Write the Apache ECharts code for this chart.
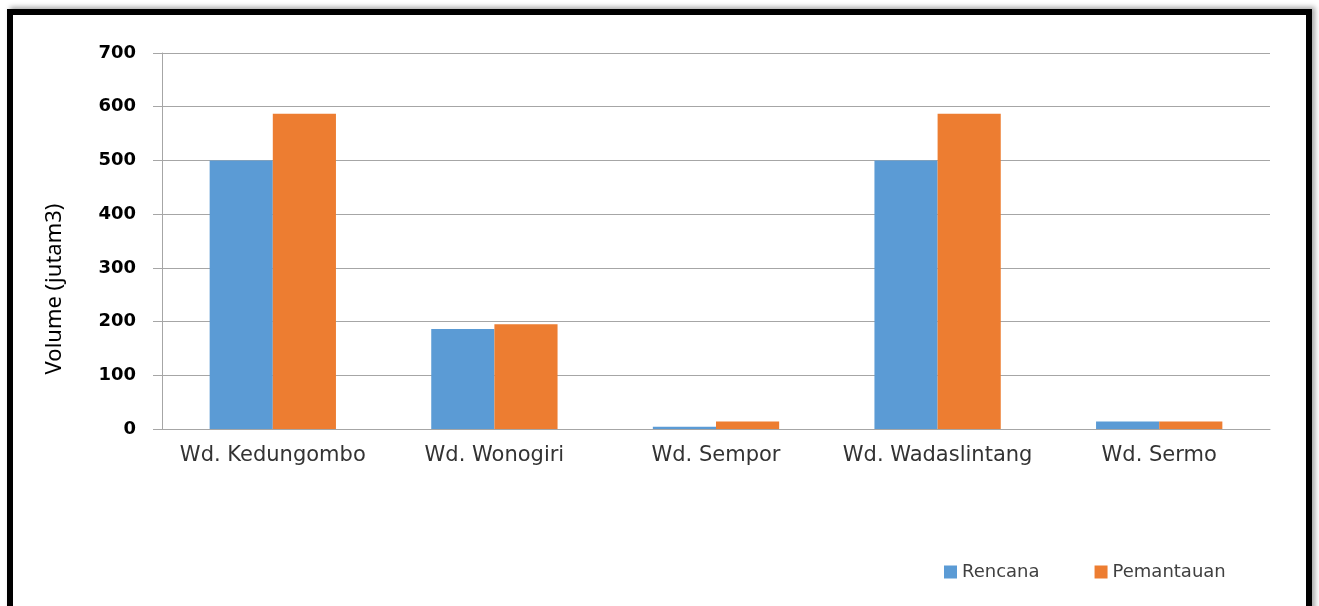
<!DOCTYPE html>
<html>
<head>
<meta charset="utf-8">
<script src="https://cdn.jsdelivr.net/npm/echarts@6/dist/echarts.min.js"></script>
<style>
  html, body { margin: 0; padding: 0; background: #fff; }
  #chart { width: 1319px; height: 606px; }
  #frame {
    position: absolute; left: 7px; top: 9px; width: 1293px; height: 620px;
    border: 6px solid #000; box-shadow: 3px -2px 5px rgba(0,0,0,0.35);
    pointer-events: none;
  }
</style>
</head>
<body>
<div id="chart"></div>
<div id="frame"></div>
<script>
// reservoirs (waduk)
const categories = ['Wd. Kedungombo', 'Wd. Wonogiri', 'Wd. Sempor', 'Wd. Wadaslintang', 'Wd. Sermo']
// volume, million m3
const rencana = [500, 186, 4, 500, 14]
const pemantauan = [587, 195, 14, 587, 14]
const yTicks = [0, 100, 200, 300, 400, 500, 600, 700]

const chart = echarts.init(document.getElementById('chart'))
const grey = '#a6a6a6'

chart.setOption({
  animation: false,
  grid: {
    left: 162,
    right: 49,
    top: 53,
    bottom: 177
  },
  graphic: [{
    type: 'text',
    x: 55,
    y: 289,
    rotation: Math.PI / 2,
    style: {
      text: 'Volume (jutam3)',
      fontFamily: 'Noto Sans',
      fontSize: 22,
      fill: '#000',
      align: 'center',
      verticalAlign: 'middle'
    }
  }],
  legend: {
    left: 939,
    top: 558,
    itemWidth: 13,
    itemHeight: 13,
    itemGap: 55,
    icon: 'rect',
    textStyle: { fontFamily: 'DejaVu Sans', fontSize: 18, color: '#404040' },
    data: ['Rencana', 'Pemantauan']
  },
  xAxis: {
    type: 'category',
    data: categories,
    axisLine: { lineStyle: { color: grey } },
    axisTick: { length: 6, lineStyle: { color: grey } },
    axisLabel: {
      interval: 0,
      margin: 16,
      fontFamily: 'DejaVu Sans',
      fontSize: 21,
      color: '#333'
    }
  },
  yAxis: {
    type: 'value',
    min: yTicks[0],
    max: yTicks[yTicks.length - 1],
    interval: 100,
    axisLine: { show: true, lineStyle: { color: grey } },
    axisTick: { show: true, length: 9, lineStyle: { color: grey } },
    splitLine: { lineStyle: { color: grey } },
    axisLabel: {
      margin: 26,
      fontFamily: 'DejaVu Sans',
      fontWeight: 'bold',
      fontSize: 18,
      color: '#000'
    }
  },
  series: [{
    name: 'Rencana',
    type: 'bar',
    data: rencana,
    barGap: '0%',
    barCategoryGap: '43%',
    itemStyle: { color: '#5b9bd5' }
  }, {
    name: 'Pemantauan',
    type: 'bar',
    data: pemantauan,
    itemStyle: { color: '#ed7d31' }
  }]
})
</script>
</body>
</html>
